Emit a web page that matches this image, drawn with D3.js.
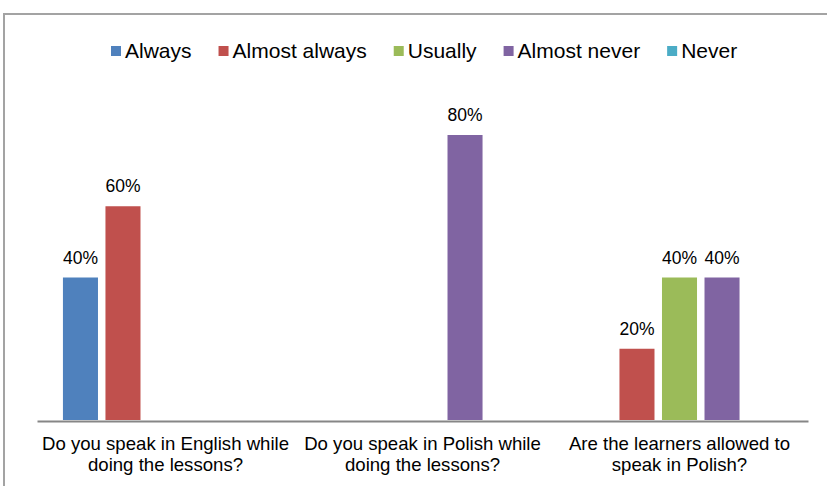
<!DOCTYPE html>
<html>
<head>
<meta charset="utf-8">
<script src="https://cdn.jsdelivr.net/npm/d3@7"></script>
<style>
  html, body { margin: 0; padding: 0; background: #fff; }
  svg { display: block; font-family: "Liberation Sans", Arial, sans-serif; }
</style>
</head>
<body>
<svg id="chart" width="827" height="486"></svg>
<script>
// Survey questions (x categories), one line per label row
const questions = [
  "Do you speak in English while doing the lessons?",
  "Do you speak in Polish while doing the lessons?",
  "Are the learners allowed to speak in Polish?"
];
const questionLines = [
  ["Do you speak in English while", "doing the lessons?"],
  ["Do you speak in Polish while", "doing the lessons?"],
  ["Are the learners allowed to", "speak in Polish?"]
];

// Answer options (series)
const answers = ["Always", "Almost always", "Usually", "Almost never", "Never"];
const answerColors = ["#4F81BD", "#C0504D", "#9BBB59", "#8064A2", "#4BACC6"];

// Percentages per answer, in question order (null = no bar)
const always       = [40, null, null];
const almostAlways = [60, null, 20];
const usually      = [null, null, 40];
const almostNever  = [null, 80, 40];
const never        = [null, null, null];

const seriesValues = [always, almostAlways, usually, almostNever, never];

const svg = d3.select("#chart");
const W = 827, H = 486;

// Outer chart frame (right and bottom edges fall outside the canvas)
svg.append("rect")
  .attr("x", 4).attr("y", 14)
  .attr("width", W + 10).attr("height", H + 10)
  .attr("fill", "#fff")
  .attr("stroke", "#a3a3a3")
  .attr("stroke-width", 2);

const plot = { left: 37, right: 808, top: 63.75, bottom: 420 };

const x0 = d3.scaleBand()
  .domain(questions)
  .range([plot.left, plot.right])
  .padding(0);

const x1 = d3.scaleBand()
  .domain(answers)
  .range([0, x0.bandwidth()])
  .paddingInner(0.176)
  .paddingOuter(0.61);

const y = d3.scaleLinear()
  .domain([0, 100])
  .range([plot.bottom, plot.top]);

const color = d3.scaleOrdinal().domain(answers).range(answerColors);

// Flatten into bar records
const bars = [];
seriesValues.forEach((vals, si) => {
  vals.forEach((v, qi) => {
    if (v != null) bars.push({ q: questions[qi], a: answers[si], v });
  });
});

const g = svg.append("g");

g.selectAll("rect.bar")
  .data(bars)
  .join("rect")
  .attr("class", "bar")
  .attr("x", d => x0(d.q) + x1(d.a))
  .attr("y", d => y(d.v))
  .attr("width", x1.bandwidth())
  .attr("height", d => y(0) - y(d.v))
  .attr("fill", d => color(d.a));

// Value labels above bars
g.selectAll("text.val")
  .data(bars)
  .join("text")
  .attr("class", "val")
  .attr("x", d => x0(d.q) + x1(d.a) + x1.bandwidth() / 2)
  .attr("y", d => y(d.v) - 14)
  .attr("text-anchor", "middle")
  .attr("font-size", "17.5px")
  .attr("fill", "#000")
  .text(d => d.v + "%");

// Category axis baseline
const xAxis = d3.axisBottom(x0).tickSize(0).tickFormat("");
const axisG = svg.append("g")
  .attr("transform", `translate(0,${plot.bottom + 1})`)
  .call(xAxis);
axisG.select(".domain")
  .attr("stroke", "#868686")
  .attr("stroke-width", 2);

// Two-line category labels
const labels = svg.append("g")
  .selectAll("text.cat")
  .data(questions)
  .join("text")
  .attr("class", "cat")
  .attr("text-anchor", "middle")
  .attr("font-size", "18.6px")
  .attr("fill", "#000");
labels.each(function(q, i) {
  const t = d3.select(this);
  questionLines[i].forEach((line, li) => {
    t.append("tspan")
      .attr("x", x0(q) + x0.bandwidth() / 2)
      .attr("y", 450 + li * 20.5)
      .text(line);
  });
});

// Legend, laid out left to right
const legend = svg.append("g");
const items = legend.selectAll("g.item")
  .data(answers)
  .join("g")
  .attr("class", "item");
items.append("rect")
  .attr("width", 10).attr("height", 10)
  .attr("y", 46)
  .attr("fill", d => color(d));
items.append("text")
  .attr("x", 14)
  .attr("y", 58)
  .attr("font-size", "21px")
  .attr("fill", "#000")
  .text(d => d);

let cursor = 0;
const gap = 27;
items.each(function() {
  const w = this.querySelector("text").getComputedTextLength() + 14;
  this.__x = cursor;
  cursor += w + gap;
});
const startX = 111;
items.attr("transform", function() { return `translate(${startX + this.__x},0)`; });
</script>
</body>
</html>
